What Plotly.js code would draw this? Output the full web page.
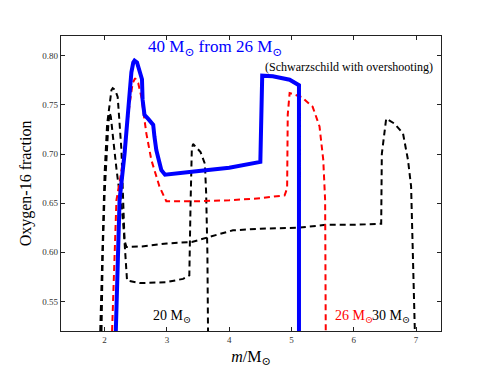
<!DOCTYPE html>
<html>
<head>
<meta charset="utf-8">
<script src="https://cdn.plot.ly/plotly-3.0.1.min.js"></script>
<style>
  html, body { margin: 0; padding: 0; background: white; }
  #chart { width: 491px; height: 368px; }
</style>
</head>
<body>
<div id="chart"></div>
<script>
// Oxygen-16 profiles vs enclosed mass.
const SERIF = '"Liberation Serif", "DejaVu Serif", serif';

const m20 = [1.95, 1.97, 2.00, 2.03, 2.06, 2.08, 2.10, 2.13, 2.16, 2.19, 2.22, 2.27, 2.31, 2.34, 2.36,
  2.56, 2.99, 3.26, 3.36, 3.38, 3.40, 3.42, 3.54, 3.61, 3.63, 3.65, 3.66];
const o20 = [0.52, 0.60, 0.66, 0.70, 0.73, 0.742, 0.738, 0.72, 0.70, 0.685, 0.67, 0.65, 0.62, 0.585, 0.5714,
  0.5687, 0.5697, 0.573, 0.5765, 0.65, 0.705, 0.7102, 0.702, 0.690, 0.66, 0.60, 0.52];

const m30 = [1.93, 1.96, 2.00, 2.04, 2.08, 2.11, 2.13, 2.17, 2.21, 2.27, 2.29, 2.32, 2.35, 2.6, 3.0,
  3.4, 3.7, 4.06, 4.5, 5.1, 5.56, 6.0, 6.44, 6.45, 6.52, 6.65, 6.79, 6.87, 6.92, 6.95, 6.98];
const o30 = [0.52, 0.60, 0.68, 0.73, 0.752, 0.765, 0.767, 0.765, 0.758, 0.704, 0.667, 0.612, 0.6054, 0.606, 0.609,
  0.6105, 0.616, 0.6224, 0.624, 0.625, 0.628, 0.628, 0.629, 0.70, 0.736, 0.731, 0.721, 0.694, 0.667, 0.60, 0.52];

const m26 = [2.12, 2.16, 2.19, 2.25, 2.31, 2.40, 2.45, 2.49, 2.54, 2.59, 2.63, 2.67, 2.75, 2.88, 2.99,
  3.5, 4.0, 4.5, 4.89, 4.93, 4.94, 4.97, 5.16, 5.34, 5.45, 5.51, 5.54, 5.55];
const o26 = [0.52, 0.60, 0.653, 0.675, 0.70, 0.75, 0.772, 0.777, 0.772, 0.758, 0.74, 0.721, 0.694, 0.667, 0.652,
  0.652, 0.653, 0.655, 0.658, 0.665, 0.74, 0.762, 0.758, 0.748, 0.728, 0.694, 0.653, 0.52];

const m40 = [2.18, 2.21, 2.24, 2.32, 2.38, 2.43, 2.46, 2.48, 2.52, 2.56, 2.60, 2.61, 2.64, 2.70, 2.78,
  2.80, 2.83, 2.91, 2.97, 3.4, 4.0, 4.5, 4.52, 4.53, 4.7, 4.97, 5.12, 5.12];
const o40 = [0.52, 0.60, 0.653, 0.70, 0.75, 0.783, 0.793, 0.795, 0.793, 0.785, 0.776, 0.755, 0.7398, 0.7357, 0.7296,
  0.7177, 0.704, 0.6837, 0.679, 0.682, 0.686, 0.692, 0.74, 0.7796, 0.779, 0.7755, 0.770, 0.52];

const xTicks = [2, 3, 4, 5, 6, 7];
const yTicks = [0.55, 0.60, 0.65, 0.70, 0.75, 0.80];

function dashed(x, y, color) {
  return {
    x, y, mode: 'lines', hoverinfo: 'skip',
    line: { color, width: 2, dash: '6px,4px' },
  };
}

const traces = [
  dashed(m20, o20, 'black'),
  dashed(m30, o30, 'black'),
  dashed(m26, o26, '#ff0000'),
  { x: m40, y: o40, mode: 'lines', hoverinfo: 'skip', line: { color: '#0000ff', width: 4 } },
];

const axisCommon = {
  showline: true, linecolor: '#222', linewidth: 1.2, mirror: 'ticks',
  ticks: 'inside', ticklen: 4, tickcolor: '#222', tickwidth: 1,
  showgrid: false, zeroline: false,
  tickfont: { family: SERIF, size: 9, color: '#333' },
};

const layout = {
  width: 491, height: 368,
  margin: { l: 61, r: 50, t: 36, b: 37 },
  paper_bgcolor: 'white', plot_bgcolor: 'white',
  showlegend: false,
  font: { family: SERIF },
  xaxis: {
    ...axisCommon,
    range: [1.3, 7.4], tickvals: xTicks,
    title: { text: '<i>m</i>/M<sub>⊙</sub>', font: { family: SERIF, size: 16, color: 'black' }, standoff: 6 },
  },
  yaxis: {
    ...axisCommon,
    range: [0.52, 0.82], tickvals: yTicks, tickformat: '.2f',
    title: { text: 'Oxygen-16 fraction', font: { family: SERIF, size: 16, color: 'black' }, standoff: 6 },
  },
  annotations: [
    { x: 3.77, y: 0.808, text: '40 M<sub>⊙</sub> from 26 M<sub>⊙</sub>', showarrow: false,
      font: { family: SERIF, size: 17, color: '#0000ff' } },
    { x: 5.93, y: 0.788, text: '(Schwarzschild with overshooting)', showarrow: false,
      font: { family: SERIF, size: 12, color: 'black' } },
    { x: 3.08, y: 0.535, text: '20 M<sub>⊙</sub>', showarrow: false,
      font: { family: SERIF, size: 14, color: 'black' } },
    { x: 6.0, y: 0.535, text: '26 M<sub>⊙</sub>', showarrow: false,
      font: { family: SERIF, size: 14, color: '#ff0000' } },
    { x: 6.6, y: 0.535, text: '30 M<sub>⊙</sub>', showarrow: false,
      font: { family: SERIF, size: 14, color: 'black' } },
  ],
};

Plotly.newPlot('chart', traces, layout, { displayModeBar: false });
</script>
</body>
</html>
